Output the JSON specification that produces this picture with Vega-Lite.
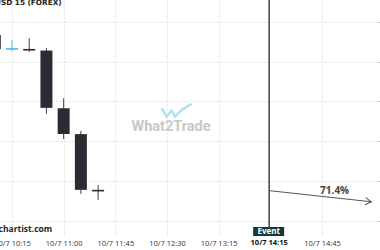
{
  "$schema": "https://vega.github.io/schema/vega-lite/v6.json",
  "width": 378,
  "height": 236,
  "autosize": "none",
  "padding": {"left": 0, "top": 0, "right": 2, "bottom": 14},
  "background": "white",
  "config": {"view": {"stroke": null}},
  "title": {"text": "EURUSD 15 (FOREX)", "anchor": "start", "orient": "top", "frame": "group", "offset": -13.5, "baseline": "alphabetic", "dx": -21.5, "font": "DejaVu Sans", "fontSize": 7.3, "fontWeight": "bold", "color": "#222222"},
  "datasets": {
    "candles": [
      {"time": "2023-10-07T10:00:00", "open": 1.05667, "high": 1.05680, "low": 1.05629, "close": 1.05632},
      {"time": "2023-10-07T10:15:00", "open": 1.05630, "high": 1.05654, "low": 1.05626, "close": 1.05634},
      {"time": "2023-10-07T10:30:00", "open": 1.05632, "high": 1.05659, "low": 1.05625, "close": 1.05628},
      {"time": "2023-10-07T10:45:00", "open": 1.05628, "high": 1.05634, "low": 1.05469, "close": 1.05484},
      {"time": "2023-10-07T11:00:00", "open": 1.05483, "high": 1.05508, "low": 1.05406, "close": 1.05418},
      {"time": "2023-10-07T11:15:00", "open": 1.05418, "high": 1.05426, "low": 1.05268, "close": 1.05278},
      {"time": "2023-10-07T11:30:00", "open": 1.05278, "high": 1.05290, "low": 1.05253, "close": 1.05274}
    ],
    "event": [{"time": "2023-10-07T13:59:00", "name": "Event", "label": "10/7 14:15"}],
    "forecast": [
      {"time": "2023-10-07T13:59:00", "price": 1.05276, "point": "origin"},
      {"time": "2023-10-07T15:28:00", "price": 1.05248, "point": "target"}
    ],
    "forecastLabel": [{"time": "2023-10-07T14:56:00", "price": 1.05274, "text": "71.4%"}],
    "logo": [
      {"time": "2023-10-07T12:25:24", "price": 1.05483},
      {"time": "2023-10-07T12:29:45", "price": 1.05462},
      {"time": "2023-10-07T12:34:06", "price": 1.05477},
      {"time": "2023-10-07T12:37:00", "price": 1.05462},
      {"time": "2023-10-07T12:42:48", "price": 1.05479},
      {"time": "2023-10-07T12:51:30", "price": 1.05494}
    ],
    "watermarks": [
      {"time": "2023-10-07T12:33:30", "price": 1.05437, "text": "What2Trade", "kind": "logo"},
      {"time": "2023-10-07T10:50:00", "price": 1.05173, "text": "forex-chartist.com", "kind": "site"}
    ]
  },
  "encoding": {
    "x": {
      "field": "time",
      "type": "temporal",
      "title": null,
      "scale": {"nice": false, "padding": 0, "domain": [
        {"year": 2023, "month": 10, "date": 7, "hours": 10, "minutes": 4, "seconds": 33},
        {"year": 2023, "month": 10, "date": 7, "hours": 15, "minutes": 33, "seconds": 48}
      ]},
      "axis": {
        "values": [
          {"year": 2023, "month": 10, "date": 7, "hours": 10, "minutes": 15},
          {"year": 2023, "month": 10, "date": 7, "hours": 11, "minutes": 0},
          {"year": 2023, "month": 10, "date": 7, "hours": 11, "minutes": 45},
          {"year": 2023, "month": 10, "date": 7, "hours": 12, "minutes": 30},
          {"year": 2023, "month": 10, "date": 7, "hours": 13, "minutes": 15},
          {"year": 2023, "month": 10, "date": 7, "hours": 14, "minutes": 45}
        ],
        "format": "%-m/%-d %H:%M",
        "formatType": "time",
        "grid": true,
        "gridColor": "#e0e0e0",
        "gridDash": [2, 2],
        "domain": false,
        "ticks": false,
        "tickSize": 0,
        "labelPadding": 3,
        "labelFont": "Open Sans",
        "labelFontSize": 7.5,
        "labelColor": "#333333",
        "labelFlush": false,
        "labelOverlap": false
      }
    }
  },
  "layer": [
    {
      "data": {"name": "logo"},
      "mark": {"type": "line", "stroke": "#b3e0f4", "strokeWidth": 2.5, "strokeJoin": "miter"},
      "encoding": {
        "y": {"field": "price", "type": "quantitative", "title": null, "scale": {"domain": [1.05162, 1.05755], "nice": false, "zero": false, "padding": 0},
          "axis": {"orient": "right", "values": [1.052, 1.0525, 1.053, 1.0535, 1.054, 1.0545, 1.055, 1.0555, 1.056, 1.0565, 1.057, 1.0575], "grid": true, "gridColor": "#e0e0e0", "gridDash": [2, 2], "domain": false, "labels": false, "ticks": true, "tickColor": "#bbbbbb", "tickSize": 4, "title": null}}
      }
    },
    {
      "data": {"name": "watermarks"},
      "transform": [{"filter": "datum.kind == 'logo'"}],
      "mark": {"type": "text", "font": "Roboto", "fontSize": 14.5, "fontWeight": "bold", "color": "#c8c8c8", "align": "center", "baseline": "middle"},
      "encoding": {
        "y": {"field": "price", "type": "quantitative", "title": null, "scale": {"domain": [1.05162, 1.05755], "nice": false, "zero": false, "padding": 0}},
        "text": {"field": "text"}
      }
    },
    {
      "data": {"name": "watermarks"},
      "transform": [{"filter": "datum.kind == 'site'"}],
      "mark": {"type": "text", "font": "Open Sans", "fontSize": 8.5, "fontWeight": "bold", "color": "#222222", "align": "right", "baseline": "alphabetic"},
      "encoding": {
        "y": {"field": "price", "type": "quantitative", "title": null, "scale": {"domain": [1.05162, 1.05755], "nice": false, "zero": false, "padding": 0}},
        "text": {"field": "text"}
      }
    },
    {
      "data": {"name": "candles"},
      "mark": {"type": "rule", "strokeWidth": 1},
      "encoding": {
        "y": {"field": "low", "type": "quantitative", "title": null, "scale": {"domain": [1.05162, 1.05755], "nice": false, "zero": false, "padding": 0}},
        "y2": {"field": "high"},
        "color": {"condition": {"test": "datum.close > datum.open", "value": "#4db8e6"}, "value": "#3a3b42"}
      }
    },
    {
      "data": {"name": "candles"},
      "mark": {"type": "bar", "size": 12},
      "encoding": {
        "y": {"field": "open", "type": "quantitative", "title": null, "scale": {"domain": [1.05162, 1.05755], "nice": false, "zero": false, "padding": 0}},
        "y2": {"field": "close"},
        "color": {"condition": {"test": "datum.close > datum.open", "value": "#4db8e6"}, "value": "#2b2c33"}
      }
    },
    {
      "data": {"name": "event"},
      "mark": {"type": "rule", "color": "#34474c", "strokeWidth": 1.5},
      "encoding": {}
    },
    {
      "data": {"name": "event"},
      "mark": {"type": "rect", "color": "#123a3b", "xOffset": -16, "x2Offset": 15, "yOffset": -9},
      "encoding": {
        "x2": {"field": "time"},
        "y": {"value": "height"},
        "y2": {"value": "height"}
      }
    },
    {
      "data": {"name": "event"},
      "mark": {"type": "text", "font": "Open Sans", "fontSize": 8, "fontWeight": "bold", "color": "#ffffff", "align": "center", "baseline": "middle", "dy": -4.5, "dx": -0.5},
      "encoding": {
        "y": {"value": "height"},
        "text": {"field": "name"}
      }
    },
    {
      "data": {"name": "event"},
      "mark": {"type": "text", "font": "Open Sans", "fontSize": 7.5, "fontWeight": "bold", "color": "#111111", "align": "center", "baseline": "top", "dy": 3},
      "encoding": {
        "y": {"value": "height"},
        "text": {"field": "label"}
      }
    },
    {
      "data": {"name": "forecast"},
      "mark": {"type": "line", "color": "#555555", "strokeWidth": 1},
      "encoding": {
        "y": {"field": "price", "type": "quantitative", "title": null, "scale": {"domain": [1.05162, 1.05755], "nice": false, "zero": false, "padding": 0}}
      }
    },
    {
      "data": {"name": "forecast"},
      "transform": [{"filter": "datum.point == 'target'"}],
      "mark": {"type": "point", "shape": "M-1,-0.6L0,0L-1,0.6", "filled": false, "size": 144, "angle": 6, "stroke": "#555555", "strokeWidth": 1, "opacity": 1},
      "encoding": {
        "y": {"field": "price", "type": "quantitative", "title": null, "scale": {"domain": [1.05162, 1.05755], "nice": false, "zero": false, "padding": 0}}
      }
    },
    {
      "data": {"name": "forecastLabel"},
      "mark": {"type": "text", "font": "Open Sans", "fontSize": 10, "fontWeight": "bold", "color": "#444444", "align": "center", "baseline": "middle"},
      "encoding": {
        "y": {"field": "price", "type": "quantitative", "title": null, "scale": {"domain": [1.05162, 1.05755], "nice": false, "zero": false, "padding": 0}},
        "text": {"field": "text"}
      }
    }
  ]
}
